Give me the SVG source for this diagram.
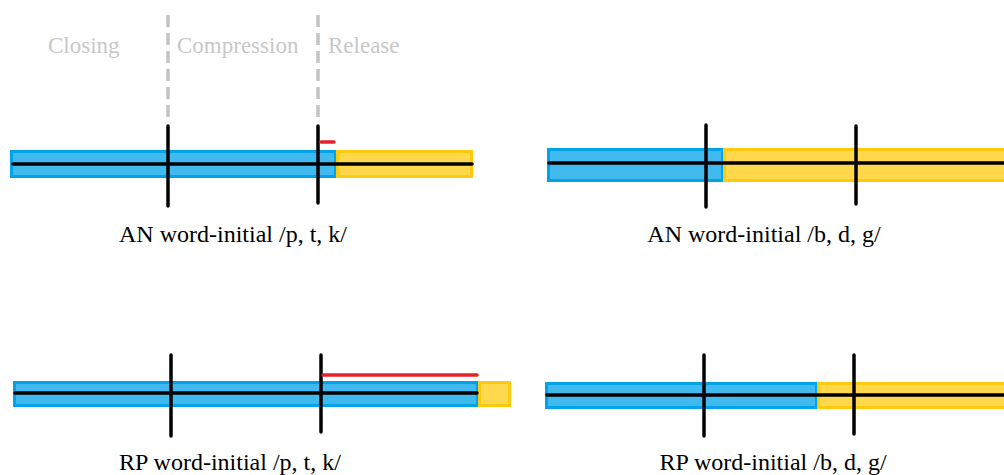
<svg xmlns="http://www.w3.org/2000/svg" width="1004" height="475" viewBox="0 0 1004 475">
  <style>
    .closure { fill: #40B9EE; stroke: #00A2E8; stroke-width: 3; }
    .voicing { fill: #FFD84C; stroke: #FFC90E; stroke-width: 3; }
    .axis { stroke: #000; stroke-width: 3.5; stroke-linecap: round; fill: none; }
    .mark { stroke: #000; stroke-width: 3.5; stroke-linecap: round; }
    .aspiration { stroke: #E8202A; stroke-width: 3.5; stroke-linecap: round; }
    .phase-sep { stroke: #C3C3C3; stroke-width: 3.5; stroke-dasharray: 12 6; }
    .phase { font-family: "Liberation Serif", serif; font-size: 23px; fill: #C8C8C8; }
    .caption { font-family: "Liberation Serif", serif; font-size: 24px; fill: #000; text-anchor: middle; }
  </style>

  <!-- phase labels and separators -->
  <g id="phases">
    <line class="phase-sep" x1="168" y1="15" x2="168" y2="120"/>
    <line class="phase-sep" x1="318" y1="15" x2="318" y2="120"/>
    <text class="phase" x="48" y="53">Closing</text>
    <text class="phase" x="177" y="53">Compression</text>
    <text class="phase" x="328" y="53">Release</text>
  </g>

  <!-- AN word-initial voiceless stops -->
  <g id="an-ptk">
    <rect class="closure" x="11.5" y="151.5" width="324" height="25"/>
    <rect class="voicing" x="337.5" y="151.5" width="134" height="25"/>
    <line class="axis" x1="13" y1="164" x2="472" y2="164"/>
    <line class="mark" x1="168" y1="126" x2="168" y2="206"/>
    <line class="mark" x1="318" y1="126" x2="318" y2="203"/>
    <line class="aspiration" x1="321" y1="142" x2="334" y2="142"/>
    <text class="caption" x="233" y="242">AN word-initial /p, t, k/</text>
  </g>

  <!-- AN word-initial voiced stops -->
  <g id="an-bdg">
    <rect class="closure" x="548.5" y="149.5" width="174" height="31"/>
    <rect class="voicing" x="724.5" y="149.5" width="285" height="31"/>
    <line class="axis" x1="549" y1="163" x2="1010" y2="163"/>
    <line class="mark" x1="706" y1="125" x2="706" y2="207"/>
    <line class="mark" x1="856" y1="126" x2="856" y2="204"/>
    <text class="caption" x="764" y="242">AN word-initial /b, d, g/</text>
  </g>

  <!-- RP word-initial voiceless stops -->
  <g id="rp-ptk">
    <rect class="closure" x="14.5" y="382.5" width="463" height="23"/>
    <rect class="voicing" x="479.5" y="382.5" width="30" height="23"/>
    <line class="axis" x1="15" y1="393" x2="477" y2="393"/>
    <line class="mark" x1="171" y1="355" x2="171" y2="436"/>
    <line class="mark" x1="321" y1="355" x2="321" y2="432"/>
    <line class="aspiration" x1="323" y1="375" x2="477" y2="375"/>
    <text class="caption" x="230" y="470">RP word-initial /p, t, k/</text>
  </g>

  <!-- RP word-initial voiced stops -->
  <g id="rp-bdg">
    <rect class="closure" x="546.5" y="383.5" width="270" height="24"/>
    <rect class="voicing" x="818.5" y="383.5" width="190" height="24"/>
    <line class="axis" x1="547" y1="395" x2="1010" y2="395"/>
    <line class="mark" x1="704" y1="355" x2="704" y2="436"/>
    <line class="mark" x1="854" y1="355" x2="854" y2="434"/>
    <text class="caption" x="773" y="470">RP word-initial /b, d, g/</text>
  </g>
</svg>
